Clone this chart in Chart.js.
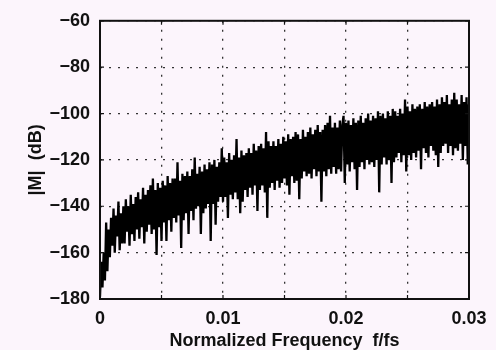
<!DOCTYPE html>
<html>
<head>
<meta charset="utf-8">
<script src="https://cdn.jsdelivr.net/npm/chart.js@4.4.1/dist/chart.umd.min.js"></script>
<style>
  html, body { margin: 0; padding: 0; background: #fcf5fc; }
  #wrap { width: 496px; height: 350px; }
</style>
</head>
<body>
<div id="wrap"><canvas id="c" width="496" height="350"></canvas></div>
<script>
// ---- data (|M| in dB, one value per 0.0001 of f/fs) ----
const binStep = 0.0001;
const magDb = [
  -179, -164, -175, -160, -172, -147, -168, -150, -162, -145,
  -157, -141, -160, -144, -153, -138, -159, -143, -156, -140,
  -156, -137, -151, -140, -157, -135, -152, -139, -155, -136,
  -150, -134, -154, -137, -149, -132, -156, -135, -151, -133,
  -148, -131, -152, -128, -150, -133, -161, -130, -149, -132,
  -155, -129, -147, -131, -155, -127, -146, -130, -151, -128,
  -145, -128, -147, -121, -144, -129, -158, -126, -146, -127,
  -143, -125, -152, -127, -142, -124, -146, -119, -141, -126,
  -140, -123, -152, -125, -143, -122, -141, -124, -139, -121,
  -155, -122, -139, -120, -148, -123, -138, -121, -136, -115,
  -138, -119, -136, -121, -145, -117, -135, -120, -137, -118,
  -134, -111, -137, -119, -143, -116, -138, -118, -133, -117,
  -136, -115, -132, -117, -135, -113, -131, -116, -142, -114,
  -133, -113, -131, -115, -134, -108, -145, -112, -132, -114,
  -130, -112, -133, -114, -129, -111, -132, -113, -130, -110,
  -128, -112, -131, -109, -135, -111, -127, -110, -130, -108,
  -129, -109, -137, -111, -128, -107, -125, -110, -127, -108,
  -126, -106, -128, -109, -124, -107, -127, -105, -125, -108,
  -138, -107, -125, -105, -127, -104, -124, -101, -126, -106,
  -123, -104, -126, -106, -124, -103, -125, -105, -101, -130,
  -104, -122, -103, -125, -105, -121, -102, -124, -104, -133,
  -103, -123, -101, -121, -104, -124, -102, -120, -100, -122,
  -103, -121, -101, -123, -102, -120, -99, -134, -101, -122,
  -100, -119, -102, -122, -99, -120, -101, -130, -98, -121,
  -99, -119, -101, -117, -98, -121, -100, -118, -94, -125,
  -97, -118, -99, -120, -96, -117, -98, -119, -97, -116,
  -96, -124, -98, -115, -95, -117, -97, -119, -96, -114,
  -95, -116, -97, -118, -94, -123, -96, -117, -93, -114,
  -95, -113, -92, -117, -96, -114, -94, -118, -91, -115,
  -94, -116, -96, -113, -92, -120, -95, -114, -93, -122,
  -96
];
const freq = magDb.map((_, i) => +(i * binStep).toFixed(5));

const xGridValues = [0, 0.005, 0.01, 0.015, 0.02, 0.025, 0.03];
const xTickLabels = { 0: '0', 0.01: '0.01', 0.02: '0.02', 0.03: '0.03' };
const yTickValues = [-180, -160, -140, -120, -100, -80, -60];
const xTitle = 'Normalized Frequency  f/fs';
const yTitle = '|M|  (dB)';

// ---- chart ----
const FONT = 'Liberation Sans, Arial, Helvetica, sans-serif';
const frame = {
  id: 'frame',
  afterDraw(chart) {
    const { ctx, chartArea: a } = chart;
    ctx.save();
    ctx.strokeStyle = '#111';
    ctx.lineWidth = 2;
    ctx.strokeRect(a.left, a.top, a.right - a.left, a.bottom - a.top);
    ctx.lineWidth = 1.2;
    const xs = chart.scales.x, ys = chart.scales.y;
    xGridValues.forEach(v => {
      const px = xs.getPixelForValue(v);
      ctx.beginPath(); ctx.moveTo(px, a.bottom); ctx.lineTo(px, a.bottom - 4);
      ctx.moveTo(px, a.top); ctx.lineTo(px, a.top + 4); ctx.stroke();
    });
    yTickValues.forEach(v => {
      const py = ys.getPixelForValue(v);
      ctx.beginPath(); ctx.moveTo(a.left, py); ctx.lineTo(a.left + 4, py);
      ctx.moveTo(a.right, py); ctx.lineTo(a.right - 4, py); ctx.stroke();
    });
    ctx.restore();
  }
};

new Chart(document.getElementById('c'), {
  type: 'line',
  data: {
    datasets: [{
      data: freq.map((f, i) => ({ x: f, y: magDb[i] })),
      borderColor: '#000',
      borderWidth: 2.3,
      borderJoinStyle: 'miter',
      pointRadius: 0,
      tension: 0,
      fill: false
    }]
  },
  options: {
    responsive: false,
    animation: false,
    devicePixelRatio: 1,
    layout: { padding: { top: 12, right: 27, left: 0, bottom: 0 } },
    plugins: { legend: { display: false }, tooltip: { enabled: false } },
    scales: {
      x: {
        type: 'linear',
        min: 0, max: 0.03,
        afterBuildTicks: s => { s.ticks = xGridValues.map(v => ({ value: v })); },
        afterFit: s => { s.height = 51; },
        ticks: {
          autoSkip: false, maxRotation: 0, padding: 9,
          color: '#111', font: { family: FONT, size: 18, weight: 'bold' },
          callback: v => (xTickLabels[v] !== undefined ? xTickLabels[v] : '')
        },
        grid: { color: '#333', lineWidth: 1.3, drawTicks: false },
        border: { display: false, dash: [2, 7] },
        title: {
          display: true, text: xTitle, color: '#111',
          font: { family: FONT, size: 18, weight: 'bold', lineHeight: 1 },
          padding: { top: 0, bottom: 0 }
        }
      },
      y: {
        type: 'linear',
        min: -180, max: -60,
        afterBuildTicks: s => { s.ticks = yTickValues.map(v => ({ value: v })); },
        afterFit: s => { s.width = 100; },
        ticks: {
          padding: 10, color: '#111', font: { family: FONT, size: 18, weight: 'bold' },
          callback: v => String(v).replace('-', '\u2212')
        },
        grid: { color: '#333', lineWidth: 1.3, drawTicks: false },
        border: { display: false, dash: [2, 7] },
        title: {
          display: true, text: yTitle, color: '#111',
          font: { family: FONT, size: 18, weight: 'bold', lineHeight: 1 },
          padding: { top: 27, bottom: 0 }
        }
      }
    }
  },
  plugins: [frame]
});
</script>
</body>
</html>
